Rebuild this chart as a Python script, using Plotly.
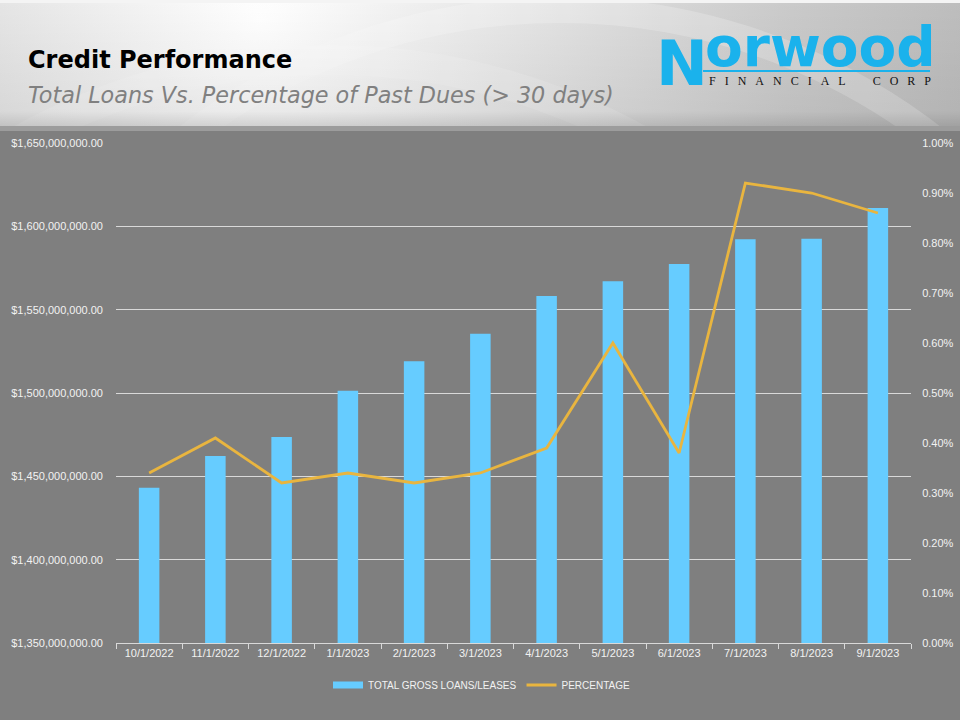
import base64
import plotly.graph_objects as go

# ---------------- data ----------------
dates = ["10/1/2022", "11/1/2022", "12/1/2022", "1/1/2023", "2/1/2023", "3/1/2023",
         "4/1/2023", "5/1/2023", "6/1/2023", "7/1/2023", "8/1/2023", "9/1/2023"]
loans = [1443.2e6, 1462.2e6, 1473.6e6, 1501.4e6, 1519.0e6, 1535.6e6,
         1558.2e6, 1567.0e6, 1577.4e6, 1592.2e6, 1592.6e6, 1611.0e6]
pct = [0.0034, 0.0041, 0.0032, 0.0034, 0.0032, 0.0034,
       0.0039, 0.0060, 0.0038, 0.0092, 0.0090, 0.0086]

bar_name = "TOTAL GROSS LOANS/LEASES"
line_name = "PERCENTAGE"
title_text = "Credit Performance"
subtitle_text = "Total Loans Vs. Percentage of Past Dues (> 30 days)"

BAR_COLOR = "#66CCFF"
LINE_COLOR = "#E9B53F"
LOGO_COLOR = "#1AB2EC"

# ---------------- geometry helpers (pixel -> paper) ----------------
W, H = 960, 720
L, R, T, B = 116, 49, 143, 77
PW, PH = W - L - R, H - T - B


def px(x):
    return (x - L) / PW


def py(y):
    return (H - B - y) / PH


# ---------------- header background (svg) ----------------
svg = """<svg xmlns='http://www.w3.org/2000/svg' width='960' height='131' viewBox='0 0 960 131'>
<defs>
<radialGradient id='g' gradientUnits='userSpaceOnUse' cx='260' cy='20' r='760'>
<stop offset='0' stop-color='#ffffff'/>
<stop offset='0.3' stop-color='#e8e8e8'/>
<stop offset='0.7' stop-color='#cacaca'/>
<stop offset='1' stop-color='#b9b9b9'/>
</radialGradient>
<linearGradient id='v' x1='0' y1='0' x2='0' y2='1'>
<stop offset='0' stop-color='#000' stop-opacity='0'/>
<stop offset='0.85' stop-color='#000' stop-opacity='0.05'/>
<stop offset='1' stop-color='#000' stop-opacity='0.18'/>
</linearGradient>
</defs>
<rect width='960' height='131' fill='url(#g)'/>
<circle cx='560' cy='620' r='610' fill='none' stroke='#ffffff' stroke-opacity='0.22' stroke-width='26'/>
<circle cx='330' cy='700' r='640' fill='none' stroke='#ffffff' stroke-opacity='0.15' stroke-width='30'/>
<rect width='960' height='131' fill='url(#v)'/>
<rect y='0' width='960' height='3' fill='#f4f4f4'/>
<rect y='126' width='960' height='5' fill='#9c9c9c'/>
</svg>"""
header_src = "data:image/svg+xml;base64," + base64.b64encode(svg.encode()).decode()

TICK_FONT = dict(family="Liberation Sans, Arial, sans-serif", size=11, color="#F2F2F2")

fig = go.Figure()
fig.add_trace(go.Bar(
    x=dates, y=loans, name=bar_name, showlegend=False, legendgroup="bars",
    marker=dict(color=BAR_COLOR, line=dict(width=0)),
))
# legend-only entry giving the wide flat swatch used in the reference
fig.add_trace(go.Scatter(
    x=[dates[0]], y=[None], name=bar_name, mode="lines", legendgroup="bars",
    line=dict(color=BAR_COLOR, width=7), hoverinfo="skip",
))
fig.add_trace(go.Scatter(
    x=dates, y=pct, name=line_name, mode="lines", yaxis="y2",
    line=dict(color=LINE_COLOR, width=2.8),
))

spaced = lambda s, n: ("\u00a0" * n).join(s)

fig.update_layout(
    width=W, height=H,
    margin=dict(l=L, r=R, t=T, b=B, pad=0),
    paper_bgcolor="#7F7F7F",
    plot_bgcolor="#7F7F7F",
    bargap=0.69,
    showlegend=True,
    legend=dict(orientation="h", x=px(482), xanchor="center", y=py(685), yanchor="middle",
                font=dict(family="Liberation Sans, Arial, sans-serif", size=10, color="#F2F2F2"),
                bgcolor="rgba(0,0,0,0)", itemwidth=30, traceorder="normal"),
    xaxis=dict(type="category", showgrid=False, showline=True, linecolor="#D9D9D9", linewidth=1,
               ticks="outside", tickson="boundaries", ticklen=5, tickcolor="#D9D9D9",
               tickfont=TICK_FONT, zeroline=False, automargin=False),
    yaxis=dict(range=[1.35e9, 1.65e9], dtick=5e7, tick0=1.35e9, tickformat="$,.2f",
               showgrid=True, gridcolor="#D9D9D9", gridwidth=1, zeroline=False,
               showline=False, tickfont=TICK_FONT, ticklabelstandoff=12, automargin=False),
    yaxis2=dict(range=[0, 0.01], dtick=0.001, tick0=0, tickformat=".2%", overlaying="y",
                side="right", showgrid=False, zeroline=False, showline=False,
                ticks="outside", ticklen=8, tickcolor="rgba(0,0,0,0)",
                tickfont=TICK_FONT, automargin=False),
    images=[dict(source=header_src, xref="paper", yref="paper", x=px(0), y=py(0),
                 sizex=W / PW, sizey=131 / PH, sizing="stretch", xanchor="left",
                 yanchor="top", layer="below")],
    shapes=[dict(type="line", xref="paper", yref="paper", x0=px(703), x1=px(930),
                 y0=py(71), y1=py(71), line=dict(color=LOGO_COLOR, width=2))],
    annotations=[
        dict(text="<b>" + title_text + "</b>", xref="paper", yref="paper",
             x=px(26), y=py(60), xanchor="left", yanchor="middle", showarrow=False,
             font=dict(family="DejaVu Sans, sans-serif", size=24, color="#000000")),
        dict(text="<i>" + subtitle_text + "</i>", xref="paper", yref="paper",
             x=px(26), y=py(95), xanchor="left", yanchor="middle", showarrow=False,
             font=dict(family="DejaVu Sans, sans-serif", size=22.3, color="#808080")),
        dict(text="<b>N</b>", xref="paper", yref="paper",
             x=px(682), y=py(63), xanchor="center", yanchor="middle", showarrow=False,
             font=dict(family="DejaVu Sans, sans-serif", size=62, color=LOGO_COLOR)),
        dict(text="<b>orwood</b>", xref="paper", yref="paper",
             x=px(703), y=py(47), xanchor="left", yanchor="middle", showarrow=False,
             font=dict(family="DejaVu Sans, sans-serif", size=55, color=LOGO_COLOR)),
        dict(text=spaced("FINANCIAL", 3) + "\u00a0" * 9 + spaced("CORP", 3),
             xref="paper", yref="paper",
             x=px(707), y=py(81), xanchor="left", yanchor="middle", showarrow=False,
             font=dict(family="Liberation Serif, serif", size=12, color="#111111")),
    ],
)

fig.write_html("out.html", config={"displayModeBar": False},
               post_script="document.body.style.margin='0';document.body.style.overflow='hidden';")
